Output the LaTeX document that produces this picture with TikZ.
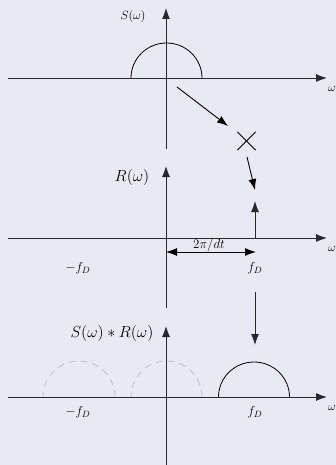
\documentclass[tikz,border=0pt]{standalone}
\usepackage{fix-cm}
\usetikzlibrary{arrows.meta}
\definecolor{bgc}{RGB}{233,233,243}
\definecolor{axc}{RGB}{40,40,40}
\definecolor{ghost}{RGB}{190,190,195}
\tikzset{
  axis/.style={line width=0.9pt, draw=axc, -{Latex[length=11pt,width=8pt]}},
  flow/.style={line width=0.9pt, draw=black, -{Latex[length=11pt,width=8pt]}},
  lobe/.style={line width=0.8pt, draw=black},
  ghostlobe/.style={line width=0.8pt, draw=ghost, dash pattern=on 7pt off 5pt},
  lbl/.style={inner sep=0pt},
}
\begin{document}
\begin{tikzpicture}[x=1pt,y=-1pt]
\fill[bgc] (0,0) rectangle (336,465);
\useasboundingbox (0,0) rectangle (336,465);
% ---------- top plot
\coordinate (t-l) at (8,78); \coordinate (t-r) at (327,78);
\coordinate (t-b) at (166,149); \coordinate (t-t) at (166,8);
\draw[axis] (t-l) -- (t-r);
\draw[axis] (t-b) -- (t-t);
\draw[lobe] (202,78) arc[start angle=0,end angle=-180,x radius=35.5,y radius=35];
\node[lbl,font=\fontsize{12}{14}\selectfont] (sw) at (133,17) {$S(\omega)$};
\node[lbl,anchor=west,font=\fontsize{12}{14}\selectfont] (w1) at (328,89) {$\omega$};
% multiplication
\coordinate (a1s) at (177,87); \coordinate (a1e) at (228,126);
\draw[flow] (a1s) -- (a1e);
\node[lbl,minimum size=18pt] (x) at (246.5,141) {};
\draw[line width=0.8pt] (x.north west) -- (x.south east) (x.north east) -- (x.south west);
\coordinate (a2s) at (247,157); \coordinate (a2e) at (255,190);
\draw[flow] (a2s) -- (a2e);
% ---------- middle plot
\coordinate (m-l) at (8,238); \coordinate (m-r) at (327,238);
\coordinate (m-b) at (166,308); \coordinate (m-t) at (166,166);
\draw[axis] (m-l) -- (m-r);
\draw[axis] (m-b) -- (m-t);
\coordinate (sp-b) at (255,238); \coordinate (sp-t) at (255,201);
\draw[axis] (sp-b) -- (sp-t);
\node[lbl,font=\fontsize{16}{18}\selectfont] (rw) at (132,177) {$R(\omega)$};
\node[lbl,anchor=west,font=\fontsize{12}{14}\selectfont] (w2) at (328,249) {$\omega$};
\coordinate (d-l) at (166,252); \coordinate (d-r) at (256,252);
\draw[line width=0.9pt,{Latex[length=11pt,width=8pt]}-{Latex[length=11pt,width=8pt]}] (d-l) -- (d-r);
\node[lbl,font=\fontsize{13}{15}\selectfont] (dt) at (209,245) {$2\pi/dt$};
\node[lbl,font=\fontsize{13}{15}\selectfont] (fd1) at (255,268) {$f_D$};
\node[lbl,font=\fontsize{13}{15}\selectfont] (mfd1) at (78,268) {$-f_D$};
\coordinate (a3s) at (255,292); \coordinate (a3e) at (255,345);
\draw[axis] (a3s) -- (a3e);
% ---------- bottom plot
\coordinate (b-l) at (8,397); \coordinate (b-r) at (327,397);
\coordinate (b-b) at (166,466); \coordinate (b-t) at (166,326);
\draw[ghostlobe] (115,397) arc[start angle=0,end angle=-180,x radius=36,y radius=36];
\draw[ghostlobe] (202,397) arc[start angle=0,end angle=-180,x radius=35.5,y radius=36];
\draw[lobe] (289.5,397) arc[start angle=0,end angle=-180,x radius=35.5,y radius=35];
\draw[axis] (b-l) -- (b-r);
\draw[axis] (b-b) -- (b-t);
\node[lbl,font=\fontsize{16}{18}\selectfont] (srw) at (112,333) {$S(\omega)*R(\omega)$};
\node[lbl,anchor=west,font=\fontsize{12}{14}\selectfont] (w3) at (328,408) {$\omega$};
\node[lbl,font=\fontsize{13}{15}\selectfont] (fd2) at (255,412) {$f_D$};
\node[lbl,font=\fontsize{13}{15}\selectfont] (mfd2) at (78,412) {$-f_D$};
\end{tikzpicture}
\end{document}
